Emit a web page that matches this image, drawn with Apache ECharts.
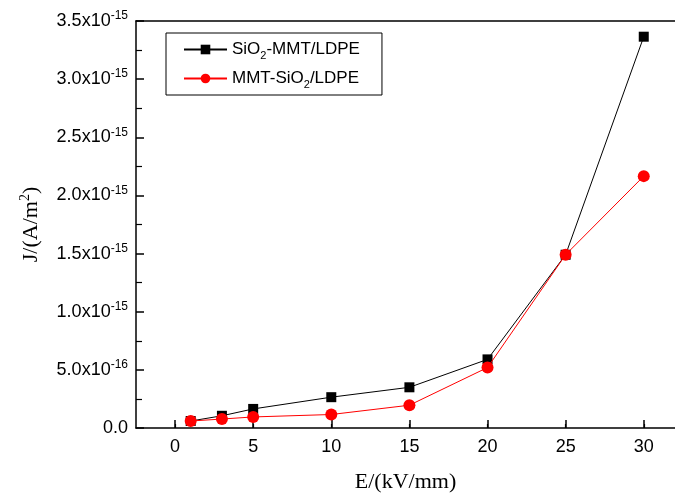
<!DOCTYPE html>
<html>
<head>
<meta charset="utf-8">
<script src="https://cdn.jsdelivr.net/npm/echarts@6/dist/echarts.min.js"></script>
<style>
  html, body { margin: 0; padding: 0; background: #fff; }
  #main { width: 675px; height: 495px; }
</style>
</head>
<body>
<div id="main"></div>
<script>
// E field (kV/mm)
var fieldE = [1, 3, 5, 10, 15, 20, 25, 30];
// J values, in units of 1e-15 A/m^2
var jSiO2MMT = [0.06, 0.105, 0.164, 0.265, 0.35, 0.59, 1.49, 3.365];
var jMMTSiO2 = [0.06, 0.077, 0.095, 0.116, 0.196, 0.52, 1.49, 2.166];
var seriesNames = ['SiO2-MMT/LDPE', 'MMT-SiO2/LDPE'];

var chart = echarts.init(document.getElementById('main'));

function pairs(ys) {
    return fieldE.map(function (x, i) { return [x, ys[i]]; });
}

// y tick label: 0.0 / m.mx10^e
function yLabel(v) {
    if (Math.abs(v) < 1e-9) return '{b|0.0}';
    var real = v * 1e-15;
    var e = Math.floor(Math.log10(real) + 1e-9);
    var m = real / Math.pow(10, e);
    return '{b|' + m.toFixed(1) + 'x10}{e|' + e + '}';
}

// legend text with subscript 2
function legendLabel(name) {
    var parts = name.split('2');
    return '{n|' + parts[0] + '}{s|2}{n|' + parts[1] + '}';
}

var tickFont = 'Liberation Sans, Arial, sans-serif';
var titleFont = 'Liberation Serif, Times New Roman, serif';

var option = {
    animation: false,
    backgroundColor: '#fff',
    grid: { left: 136, right: 0, top: 21, bottom: 67, outerBoundsMode: 'none', containLabel: false },
    legend: {
        orient: 'vertical',
        left: 166, top: 33,
        padding: [8, 22, 5, 17],
        itemWidth: 43, itemHeight: 12, itemGap: 9,
        borderColor: '#000', borderWidth: 1,
        data: seriesNames,
        formatter: legendLabel,
        textStyle: {
            rich: {
                n: { fontFamily: tickFont, fontSize: 17, color: '#000' },
                s: { fontFamily: tickFont, fontSize: 11, color: '#000', padding: [12, 0, 0, 0] }
            }
        }
    },
    xAxis: [{
        type: 'value',
        min: -2.5, max: 32, interval: 5,
        name: 'E/(kV/mm)',
        nameLocation: 'middle', nameGap: 43,
        nameTextStyle: { fontFamily: titleFont, fontSize: 22, color: '#000' },
        axisLine: { onZero: false, lineStyle: { color: '#000', width: 1.5 } },
        axisTick: { inside: true, length: 8, lineStyle: { color: '#000', width: 1.5 },
            customValues: [0, 5, 10, 15, 20, 25, 30] },
        minorTick: { show: true, splitNumber: 2, length: 4, lineStyle: { color: '#000', width: 1.2 } },
        axisLabel: { fontFamily: tickFont, fontSize: 18, color: '#000', margin: 10,
            customValues: [0, 5, 10, 15, 20, 25, 30] },
        splitLine: { show: false }
    }, {
        type: 'value', position: 'top',
        min: -2.5, max: 32,
        axisLine: { onZero: false, lineStyle: { color: '#000', width: 1.5 } },
        axisTick: { show: false }, axisLabel: { show: false }, splitLine: { show: false }
    }],
    yAxis: {
        type: 'value',
        min: 0, max: 3.5, interval: 0.5,
        name: '{a|J/(A/m}{s|2}{a|)}',
        nameLocation: 'middle', nameGap: 92, nameRotate: 90,
        nameTextStyle: {
            rich: {
                a: { fontFamily: titleFont, fontSize: 22, color: '#000' },
                s: { fontFamily: titleFont, fontSize: 14, color: '#000', padding: [0, 0, 12, 0] }
            }
        },
        axisLine: { onZero: false, lineStyle: { color: '#000', width: 1.5 } },
        axisTick: { inside: true, length: 8, lineStyle: { color: '#000', width: 1.5 } },
        minorTick: { show: true, splitNumber: 2, length: 6, lineStyle: { color: '#000', width: 1.2 } },
        axisLabel: {
            margin: 8,
            formatter: yLabel,
            rich: {
                b: { fontFamily: tickFont, fontSize: 18, color: '#000' },
                e: { fontFamily: tickFont, fontSize: 12, color: '#000', padding: [0, 0, 10, 0] }
            }
        },
        splitLine: { show: false }
    },
    series: [{
        name: seriesNames[0],
        type: 'line',
        data: pairs(jSiO2MMT),
        symbol: 'rect', symbolSize: 10,
        color: '#000',
        lineStyle: { width: 1, color: '#000' },
        itemStyle: { color: '#000' },
        z: 2
    }, {
        name: seriesNames[1],
        type: 'line',
        data: pairs(jMMTSiO2),
        symbol: 'circle', symbolSize: 12,
        color: '#ff0000',
        lineStyle: { width: 1, color: '#ff0000' },
        itemStyle: { color: '#ff0000' },
        z: 3
    }]
};

chart.setOption(option);
</script>
</body>
</html>
